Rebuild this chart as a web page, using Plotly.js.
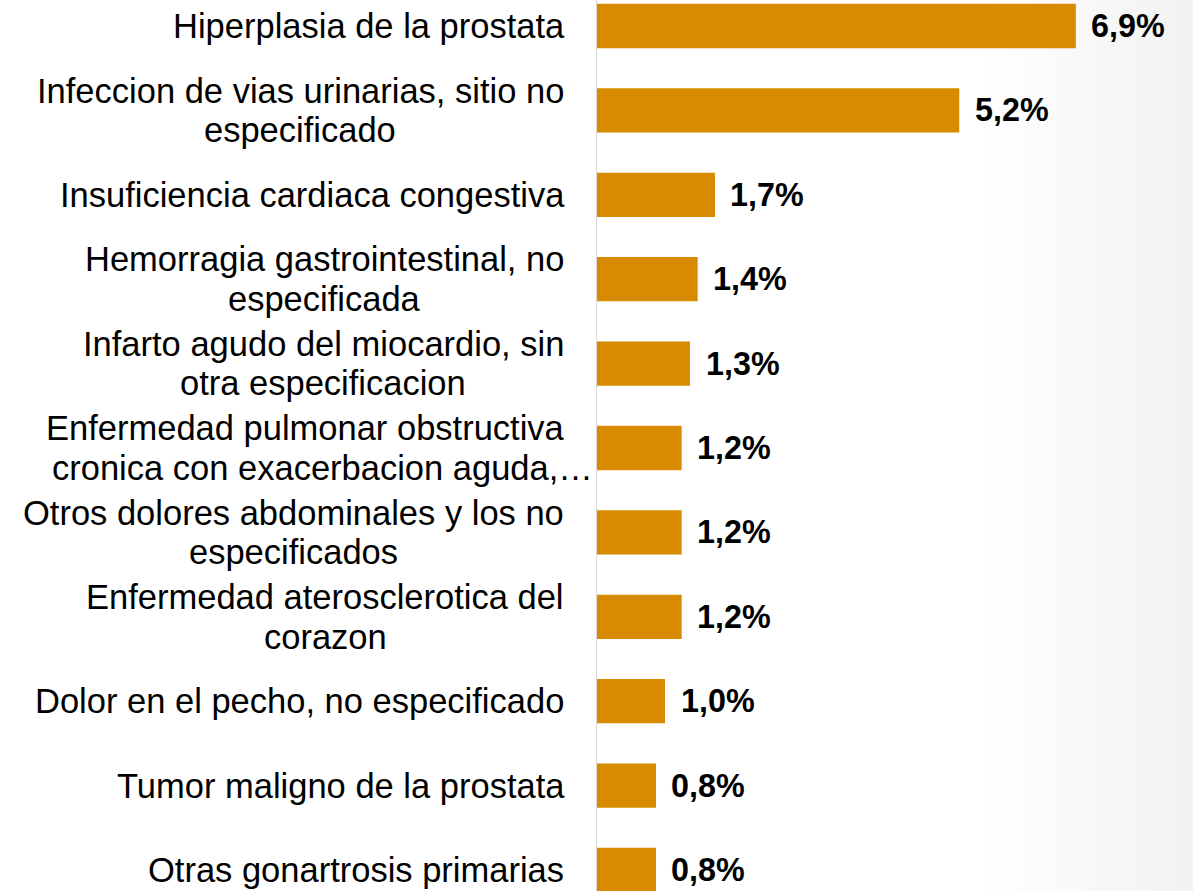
<!DOCTYPE html>
<html>
<head>
<meta charset="utf-8">
<script src="https://cdn.plot.ly/plotly-3.0.1.min.js"></script>
<style>
  html, body { margin: 0; padding: 0; }
  body { background: linear-gradient(to right, #ffffff 0%, #ffffff 82%, #f2f2f2 100%); }
  #chart { width: 1193px; height: 891px; }
</style>
</head>
<body>
<div id="chart"></div>
<script>
// ---- data ----
const categories = [
  "Hiperplasia de la prostata",
  "Infeccion de vias urinarias, sitio no\nespecificado",
  "Insuficiencia cardiaca congestiva",
  "Hemorragia gastrointestinal, no\nespecificada",
  "Infarto agudo del miocardio, sin\notra especificacion",
  "Enfermedad pulmonar obstructiva\ncronica con exacerbacion aguda,…",
  "Otros dolores abdominales y los no\nespecificados",
  "Enfermedad aterosclerotica del\ncorazon",
  "Dolor en el pecho, no especificado",
  "Tumor maligno de la prostata",
  "Otras gonartrosis primarias"
];
const values = [6.90, 5.22, 1.70, 1.45, 1.34, 1.22, 1.22, 1.22, 0.98, 0.85, 0.85];

// ---- style ----
const W = 1193, H = 891, ML = 597;
const PW = W - ML;
const FONT = '"Liberation Sans", Arial, sans-serif';
const LABEL_SIZE = 34.5;
const VALUE_SIZE = 32.3;
const LABEL_RIGHT_PX = -33;
const LINE_H = 39.5;
const BAR_COLOR = '#D98B00';

const fmt = v => v.toFixed(1).replace('.', ',') + '%';

const ctx = document.createElement('canvas').getContext('2d');
ctx.font = LABEL_SIZE + 'px "Liberation Sans"';

const annotations = [];
categories.forEach((cat, i) => {
  const lines = cat.split('\n');
  const widths = lines.map(l => ctx.measureText(l.replace(/…$/, '')).width);
  const blockW = Math.max(...widths);
  const center = LABEL_RIGHT_PX - blockW / 2;
  lines.forEach((line, j) => {
    annotations.push({
      xref: 'paper', x: (center - widths[j] / 2) / PW, xanchor: 'left',
      yref: 'y', y: i, yanchor: 'middle',
      yshift: ((lines.length - 1) / 2 - j) * LINE_H,
      text: line, showarrow: false, borderpad: 0, borderwidth: 0,
      font: { family: FONT, size: LABEL_SIZE, color: '#000000' }
    });
  });
  annotations.push({
    xref: 'x', x: values[i], xanchor: 'left', xshift: 15.5,
    yref: 'y', y: i, yanchor: 'middle',
    text: '<b>' + fmt(values[i]) + '</b>', showarrow: false, borderpad: 0, borderwidth: 0,
    font: { family: FONT, size: VALUE_SIZE, color: '#000000' }
  });
});

const trace = {
  type: 'bar',
  orientation: 'h',
  x: values,
  y: categories,
  marker: { color: BAR_COLOR },
  hoverinfo: 'skip'
};

const layout = {
  width: W, height: H,
  margin: { l: ML, r: 0, t: 0, b: 0, pad: 0 },
  paper_bgcolor: 'rgba(0,0,0,0)',
  plot_bgcolor: 'rgba(0,0,0,0)',
  bargap: 0.475,
  showlegend: false,
  font: { family: FONT, color: '#000000' },
  xaxis: {
    range: [0, PW / 69.4],
    showgrid: false, zeroline: false, showline: false,
    showticklabels: false, ticks: ''
  },
  yaxis: {
    type: 'category',
    range: [10.249, -0.308],
    showgrid: false, zeroline: false,
    showline: true, linecolor: '#d9d9d9', linewidth: 1.5,
    showticklabels: false, ticks: ''
  },
  annotations: annotations
};

Plotly.newPlot('chart', [trace], layout, { displayModeBar: false, staticPlot: true });
</script>
</body>
</html>
